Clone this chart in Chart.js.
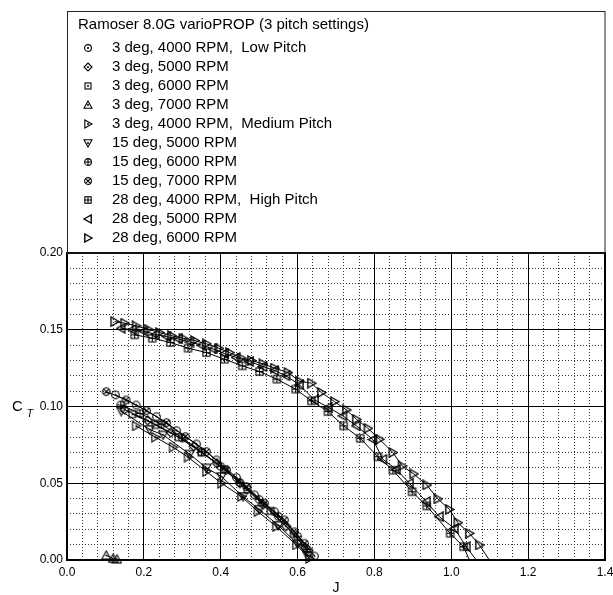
<!DOCTYPE html>
<html><head><meta charset="utf-8">
<script src="https://cdn.jsdelivr.net/npm/chart.js@4/dist/chart.umd.min.js"></script>
<style>html,body{margin:0;padding:0;background:#fff}</style>
</head><body>
<canvas id="c" width="613" height="595"></canvas>
<script>
// ---------------- data ----------------
const chartTitle = 'Ramoser 8.0G varioPROP (3 pitch settings)';
const seriesLabels = [
  '3 deg, 4000 RPM,  Low Pitch',
  '3 deg, 5000 RPM',
  '3 deg, 6000 RPM',
  '3 deg, 7000 RPM',
  '3 deg, 4000 RPM,  Medium Pitch',
  '15 deg, 5000 RPM',
  '15 deg, 6000 RPM',
  '15 deg, 7000 RPM',
  '28 deg, 4000 RPM,  High Pitch',
  '28 deg, 5000 RPM',
  '28 deg, 6000 RPM'
];
const seriesMarkers = ['circleDot','diamondDot','squareDot','triUpDot','triRightDot','triDownDot','circlePlus','circleX','squarePlus','triLeft','triRight'];

const J_3_4000  = [0.126,0.180,0.233,0.285,0.337,0.389,0.441,0.488,0.540,0.592,0.644];
const CT_3_4000 = [0.1076,0.1010,0.0934,0.0843,0.0756,0.0652,0.0538,0.0424,0.0315,0.0184,0.0026];

const J_3_5000  = [0.150,0.210,0.270,0.330,0.390,0.450,0.510,0.570,0.620];
const CT_3_5000 = [0.0980,0.0910,0.0830,0.0740,0.0630,0.0500,0.0360,0.0220,0.0080];

const J_3_6000  = [0.170,0.230,0.290,0.350,0.410,0.470,0.530,0.590,0.630];
const CT_3_6000 = [0.0950,0.0880,0.0800,0.0700,0.0590,0.0460,0.0320,0.0170,0.0050];

const J_3_7000  = [0.102,0.120,0.130];
const CT_3_7000 = [0.0030,0.0010,0.0005];

const J_3_4000m  = [0.180,0.230,0.276,0.315,0.363,0.402,0.454,0.497,0.545,0.597,0.631];
const CT_3_4000m = [0.0873,0.0800,0.0735,0.0670,0.0576,0.0500,0.0413,0.0315,0.0217,0.0098,0.0010];

const J_15_5000  = [0.141,0.215,0.250,0.319,0.363,0.402,0.458,0.500,0.550,0.600,0.625];
const CT_15_5000 = [0.0970,0.0850,0.0815,0.0690,0.0600,0.0543,0.0413,0.0330,0.0225,0.0105,0.0030];

const J_15_6000  = [0.140,0.190,0.245,0.300,0.350,0.400,0.450,0.500,0.550,0.600,0.625];
const CT_15_6000 = [0.1010,0.0955,0.0885,0.0795,0.0705,0.0610,0.0505,0.0395,0.0285,0.0155,0.0070];

const J_15_7000  = [0.102,0.154,0.207,0.259,0.308,0.363,0.415,0.467,0.514,0.566,0.618];
const CT_15_7000 = [0.1097,0.1043,0.0973,0.0895,0.0804,0.0706,0.0587,0.0478,0.0370,0.0261,0.0109];

const J_28_4000  = [0.176,0.222,0.269,0.315,0.363,0.410,0.456,0.501,0.546,0.595,0.636,0.679,0.720,0.763,0.809,0.848,0.898,0.936,0.997,1.032,1.047];
const CT_28_4000 = [0.1467,0.1445,0.1417,0.1380,0.1351,0.1308,0.1265,0.1228,0.1178,0.1113,0.1037,0.0967,0.0874,0.0793,0.0673,0.0585,0.0445,0.0352,0.0174,0.0087,0.0000];

const J_28_5000  = [0.141,0.170,0.200,0.230,0.260,0.290,0.320,0.350,0.380,0.410,0.440,0.475,0.510,0.540,0.570,0.605,0.644,0.680,0.718,0.753,0.796,0.822,0.857,0.891,0.935,0.969,1.008,1.039,1.065];
const CT_28_5000 = [0.1510,0.1500,0.1490,0.1470,0.1455,0.1440,0.1420,0.1400,0.1375,0.1345,0.1320,0.1293,0.1260,0.1235,0.1200,0.1141,0.1043,0.0995,0.0939,0.0874,0.0785,0.0656,0.0590,0.0500,0.0380,0.0282,0.0206,0.0087,0.0000];

const J_28_6000  = [0.124,0.150,0.180,0.211,0.241,0.272,0.302,0.332,0.363,0.395,0.423,0.454,0.480,0.510,0.540,0.575,0.605,0.636,0.662,0.696,0.727,0.753,0.783,0.813,0.848,0.872,0.902,0.936,0.965,0.995,1.017,1.047,1.073,1.099];
const CT_28_6000 = [0.1553,0.1543,0.1525,0.1504,0.1482,0.1462,0.1445,0.1430,0.1408,0.1380,0.1351,0.1315,0.1299,0.1278,0.1250,0.1221,0.1165,0.1152,0.1091,0.1032,0.0978,0.0917,0.0858,0.0787,0.0700,0.0613,0.0561,0.0489,0.0398,0.0330,0.0243,0.0174,0.0098,0.0000];

const seriesJ  = [J_3_4000, J_3_5000, J_3_6000, J_3_7000, J_3_4000m, J_15_5000, J_15_6000, J_15_7000, J_28_4000, J_28_5000, J_28_6000];
const seriesCT = [CT_3_4000, CT_3_5000, CT_3_6000, CT_3_7000, CT_3_4000m, CT_15_5000, CT_15_6000, CT_15_7000, CT_28_4000, CT_28_5000, CT_28_6000];
// series whose last point is only the end of the line (no symbol)
const lineEndOnly = [false,false,false,false,false,false,false,false,true,true,true];

// ---------------- markers ----------------
const FONT = '"Liberation Sans", Arial, Helvetica, sans-serif';
function makeMarker(kind, size, lw) {
  const c = document.createElement('canvas');
  c.width = size; c.height = size;
  const g = c.getContext('2d');
  const m = size / 2, r = size / 2 - 1;
  g.strokeStyle = '#000'; g.fillStyle = '#000'; g.lineWidth = lw;
  const dot = () => { g.beginPath(); g.arc(m, m, 1, 0, Math.PI * 2); g.fill(); };
  const tri = (pts) => { g.beginPath(); g.moveTo(pts[0][0], pts[0][1]); g.lineTo(pts[1][0], pts[1][1]); g.lineTo(pts[2][0], pts[2][1]); g.closePath(); g.stroke(); };
  const k = 0.8;
  switch (kind) {
    case 'circleDot': g.beginPath(); g.arc(m, m, r * 0.85, 0, Math.PI * 2); g.stroke(); dot(); break;
    case 'diamondDot': g.beginPath(); g.moveTo(m, m - r); g.lineTo(m + r, m); g.lineTo(m, m + r); g.lineTo(m - r, m); g.closePath(); g.stroke(); dot(); break;
    case 'squareDot': g.strokeRect(m - r * 0.75, m - r * 0.75, r * 1.5, r * 1.5); dot(); break;
    case 'triUpDot': tri([[m, m - r], [m + r, m + r * k], [m - r, m + r * k]]); dot(); break;
    case 'triDownDot': tri([[m, m + r], [m + r, m - r * k], [m - r, m - r * k]]); dot(); break;
    case 'triRightDot': tri([[m + r, m], [m - r * k, m - r], [m - r * k, m + r]]); dot(); break;
    case 'circlePlus': g.beginPath(); g.arc(m, m, r * 0.85, 0, Math.PI * 2); g.moveTo(m - r * 0.85, m); g.lineTo(m + r * 0.85, m); g.moveTo(m, m - r * 0.85); g.lineTo(m, m + r * 0.85); g.stroke(); break;
    case 'circleX': { const d = r * 0.6; g.beginPath(); g.arc(m, m, r * 0.85, 0, Math.PI * 2); g.moveTo(m - d, m - d); g.lineTo(m + d, m + d); g.moveTo(m + d, m - d); g.lineTo(m - d, m + d); g.stroke(); break; }
    case 'squarePlus': { const s = r * 0.8; g.strokeRect(m - s, m - s, 2 * s, 2 * s); g.beginPath(); g.moveTo(m - s, m); g.lineTo(m + s, m); g.moveTo(m, m - s); g.lineTo(m, m + s); g.stroke(); break; }
    case 'triLeft': g.lineWidth = lw * 1.25; tri([[m - r, m], [m + r * k, m - r], [m + r * k, m + r]]); break;
    case 'triRight': g.lineWidth = lw * 1.25; tri([[m + r, m], [m - r * k, m - r], [m - r * k, m + r]]); break;
  }
  return c;
}
const plotMarkers = seriesMarkers.map(k => makeMarker(k, 11, 1.1));
const legendMarkers = seriesMarkers.map(k => makeMarker(k, 10, 1.1));

// ---------------- datasets ----------------
const datasets = seriesLabels.map((label, i) => ({
  label,
  data: seriesJ[i].map((x, n) => ({ x, y: seriesCT[i][n] })),
  showLine: true,
  borderColor: '#000',
  borderWidth: 1,
  backgroundColor: 'rgba(0,0,0,0)',
  pointRadius: 4,
  pointStyle: (ctx) => (lineEndOnly[i] && ctx.dataIndex === seriesJ[i].length - 1) ? false : plotMarkers[i],
  tension: 0,
  clip: false,
  xAxisID: 'x',
  yAxisID: 'y'
}));

// ---------------- custom drawing plugin ----------------
const decor = {
  id: 'decor',
  afterDraw(chart) {
    const g = chart.ctx, a = chart.chartArea;
    g.save();
    // plot frame
    g.strokeStyle = '#000'; g.lineWidth = 2;
    g.strokeRect(a.left, a.top, a.right - a.left, a.bottom - a.top);
    // legend box
    g.lineWidth = 1; g.strokeStyle = '#222';
    g.strokeRect(67.5, 11.5, a.right - 67.5, a.top - 11.5);
    g.fillStyle = '#000';
    g.textBaseline = 'middle'; g.textAlign = 'left';
    g.font = '15px ' + FONT;
    g.fillText(chartTitle, 78, 25);
    seriesLabels.forEach((lab, i) => {
      const y = 48 + i * 19.03;
      const mk = legendMarkers[i];
      g.drawImage(mk, 88 - mk.width / 2, Math.round(y) - mk.height / 2);
      g.fillText(lab, 112, y);
    });
    // y axis title C_T
    g.font = '15px ' + FONT;
    g.fillText('C', 12, 407);
    g.font = 'italic 11px ' + FONT;
    g.fillText('T', 26.5, 414);
    g.restore();
  }
};

new Chart(document.getElementById('c'), {
  type: 'scatter',
  data: { datasets },
  plugins: [decor],
  options: {
    responsive: false,
    animation: false,
    layout: { padding: { top: 253, right: 0, left: 0, bottom: 0 } },
    plugins: { legend: { display: false }, tooltip: { enabled: false } },
    scales: {
      xMinor: {
        type: 'linear', position: 'bottom', min: 0, max: 1.4,
        ticks: { display: false, stepSize: 0.04 },
        grid: { color: '#333', lineWidth: 1, drawTicks: false, z: -2 },
        border: { display: false, dash: [1, 2] },
        afterFit: s => { s.height = 0; s.paddingLeft = 0; s.paddingRight = 0; }
      },
      yMinor: {
        type: 'linear', position: 'left', min: 0, max: 0.2,
        ticks: { display: false, stepSize: 0.01 },
        grid: { color: '#333', lineWidth: 1, drawTicks: false, z: -2 },
        border: { display: false, dash: [1, 2] },
        afterFit: s => { s.width = 0; s.paddingTop = 0; s.paddingBottom = 0; }
      },
      x: {
        type: 'linear', position: 'bottom', min: 0, max: 1.4,
        ticks: { stepSize: 0.2, callback: v => Number(v).toFixed(1), font: { family: FONT, size: 12 }, color: '#000', padding: 5, maxRotation: 0 },
        grid: { color: '#000', lineWidth: 1, drawTicks: false, z: -1 },
        border: { display: true, color: '#000', width: 1 },
        title: { display: true, text: 'J', font: { family: FONT, size: 14 }, color: '#000', padding: { top: 0, bottom: -2 } },
        afterFit: s => { s.height = 35; s.paddingRight = 8; s.paddingLeft = 8; }
      },
      y: {
        type: 'linear', position: 'left', min: 0, max: 0.2,
        ticks: { stepSize: 0.05, callback: v => Number(v).toFixed(2), font: { family: FONT, size: 12 }, color: '#000', padding: 4 },
        grid: { color: '#000', lineWidth: 1, drawTicks: false, z: -1 },
        border: { display: true, color: '#000', width: 1 },
        afterFit: s => { s.width = 67; }
      }
    }
  }
});
</script>
</body></html>
